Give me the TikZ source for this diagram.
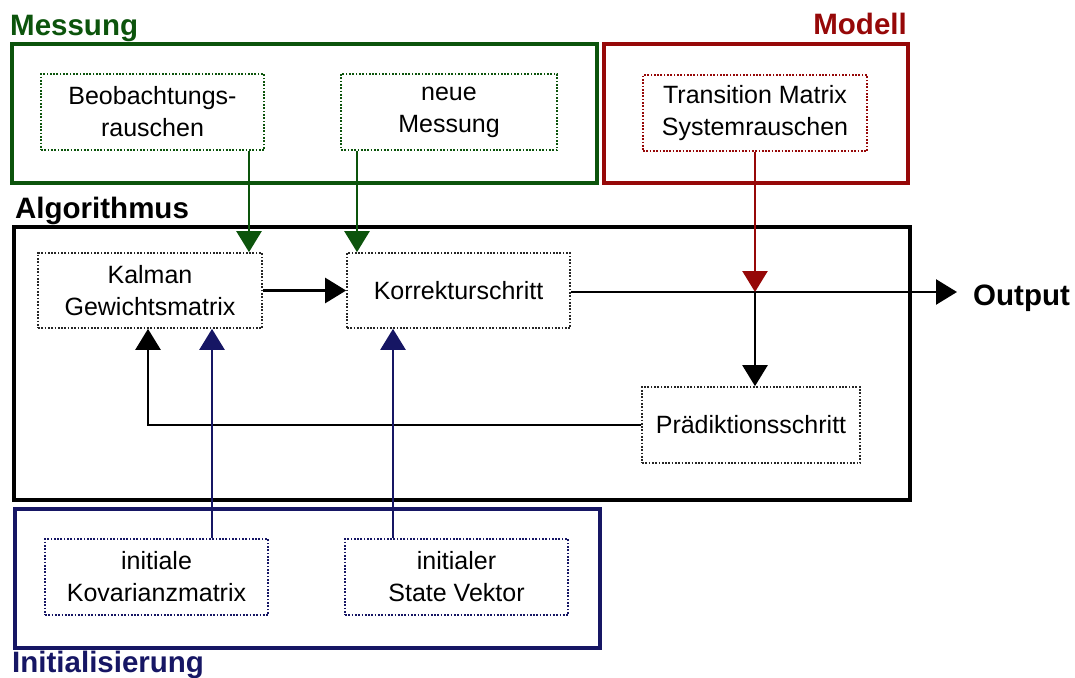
\documentclass[tikz,border=0pt]{standalone}
\usepackage{fontspec}
\setmainfont{Liberation Sans}
\usetikzlibrary{arrows.meta}
\definecolor{mgreen}{RGB}{12,84,12}
\definecolor{mred}{RGB}{150,8,8}
\definecolor{mnavy}{RGB}{22,22,100}
\tikzset{
  frame/.style={line width=3.4pt},
  stepbox/.style={draw, line width=1.7pt, dash pattern=on 1.7pt off 1.6pt,
    align=center, inner sep=0pt, minimum width=223pt, minimum height=76pt,
    font=\fontsize{25}{32}\selectfont},
  grouplabel/.style={font=\fontsize{29.5}{30}\selectfont\bfseries, inner sep=0pt},
  flow/.style={line width=2.5pt, -{Triangle[width=25pt,length=21pt]}},
}
\begin{document}
\begin{tikzpicture}[x=1pt,y=-1pt]
\useasboundingbox (0,0) rectangle (1075,677);

% group frames
\draw[frame, mgreen] (12,44) rectangle (597,183);
\draw[frame, mred] (604,44) rectangle (908,183);
\draw[frame, black] (14,227) rectangle (910,500);
\draw[frame, mnavy] (15,509) rectangle (600,648);

% group headings
\node[grouplabel, text=mgreen, anchor=base west] (lmess) at (10,36) {Messung};
\node[grouplabel, text=mred, anchor=base east] (lmod) at (907,35) {Modell};
\node[grouplabel, text=black, anchor=base west] (lalg) at (15,218) {Algorithmus};
\node[grouplabel, text=mnavy, anchor=base west] (linit) at (12,672) {Initialisierung};

% blocks
\node[stepbox, draw=mgreen] (beob) at (152.5,112) {Beobachtungs-\\rauschen};
\node[stepbox, draw=mgreen, minimum width=216pt] (neue) at (449,112) {neue\\Messung};
\node[stepbox, draw=mred, minimum width=224pt] (trans) at (755,113) {Transition Matrix\\Systemrauschen};
\node[stepbox, draw=black!85, minimum width=224pt, minimum height=75pt] (kalman) at (150,290.5) {Kalman\\Gewichtsmatrix};
\node[stepbox, draw=black!85, minimum height=75pt] (korr) at (458.5,290.5) {Korrekturschritt};
\node[stepbox, draw=black!85, minimum width=218pt] (praed) at (751,425) {Prädiktionsschritt};
\node[stepbox, draw=mnavy] (kov) at (156.5,577) {initiale\\Kovarianzmatrix};
\node[stepbox, draw=mnavy] (state) at (456.5,577) {initialer\\State Vektor};

\node[grouplabel, text=black, anchor=base west, inner xsep=16pt] (out) at (957,305) {Output};

% connector columns
\coordinate (cbeob) at (249,0);
\coordinate (cneue) at (357,0);
\coordinate (cmod) at (755,0);
\coordinate (cback) at (148,0);
\coordinate (ckov) at (212,0);
\coordinate (cstate) at (393,0);
\coordinate (join) at (755,292);

% connectors
\draw[flow, mgreen] (beob.south -| cbeob) -- (kalman.north -| cbeob);
\draw[flow, mgreen] (neue.south -| cneue) -- (korr.north -| cneue);
\draw[flow] (kalman.east) -- (korr.west);
\draw[flow] (korr.east |- join) -- (out.west |- join);
\draw[flow, mred] (trans.south -| cmod) -- (join);
\draw[flow] (join) -- (praed.north -| cmod);
\draw[flow] (praed.west) -| (kalman.south -| cback);
\draw[flow, mnavy] (kov.north -| ckov) -- (kalman.south -| ckov);
\draw[flow, mnavy] (state.north -| cstate) -- (korr.south -| cstate);
\end{tikzpicture}
\end{document}
